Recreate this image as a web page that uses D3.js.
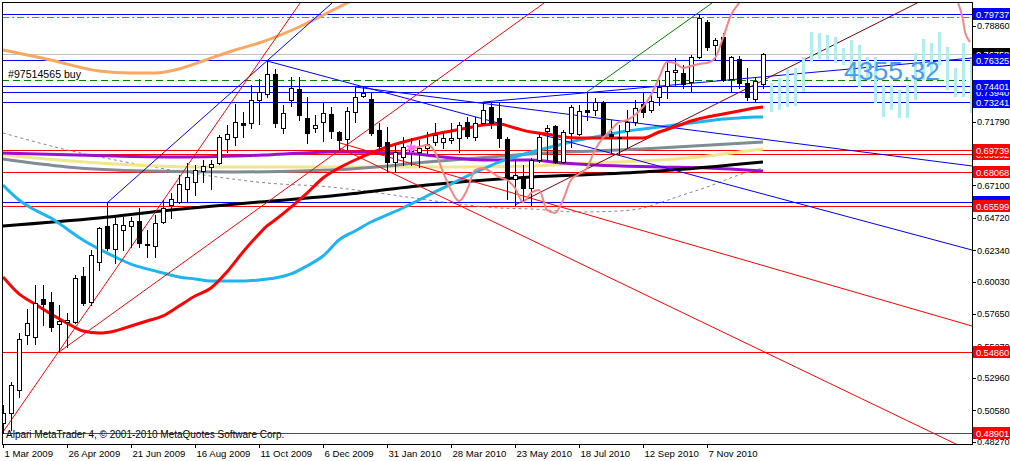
<!DOCTYPE html>
<html><head><meta charset="utf-8">
<script src="https://cdn.jsdelivr.net/npm/d3@7"></script>
<style>body{margin:0;background:#fff;overflow:hidden}svg text{font-family:"Liberation Sans",Arial,sans-serif}</style>
</head><body><svg id="c" width="1010" height="461"></svg>
<script>
// ---------- DATA ----------
const dateLabels = ["1 Mar 2009","26 Apr 2009","21 Jun 2009","16 Aug 2009","11 Oct 2009","6 Dec 2009","31 Jan 2010","28 Mar 2010","23 May 2010","18 Jul 2010","12 Sep 2010","7 Nov 2010"];
const dateIdx = [0,8,16,24,32,40,48,56,64,72,80,88];
const priceTicks = [0.78860,0.71790,0.67100,0.64720,0.62340,0.60030,0.57650,0.55270,0.52960,0.50580,0.48270];

const open = [0.4963,0.5037,0.5206,0.5610,0.5595,0.5875,0.5853,0.5691,0.5706,0.5706,
0.6044,0.5853,0.6147,0.6412,0.6243,0.6382,0.6412,0.6448,0.6279,0.6265,
0.6441,0.6566,0.6588,0.6684,0.6735,0.6816,0.6846,0.6875,0.7051,0.7066,
0.7169,0.7169,0.7338,0.7382,0.7529,0.7132,0.7338,0.7419,0.7206,0.7132,
0.7176,0.7235,0.7103,0.7051,0.7250,0.7368,0.7346,0.7118,0.7029,0.6882,
0.6919,0.6963,0.6956,0.6985,0.7029,0.7029,0.7044,0.7059,0.7176,0.7066,
0.7169,0.7287,0.7206,0.7051,0.6757,0.6765,0.6691,0.6897,0.7110,0.7147,
0.6882,0.7096,0.7088,0.7265,0.7265,0.7323,0.7088,0.7066,0.7110,0.7176,
0.7309,0.7265,0.7360,0.7441,0.7544,0.7537,0.7471,0.7654,0.7912,0.7743,
0.7801,0.7493,0.7640,0.7463,0.7346,0.7456];
const high = [0.5095,0.5265,0.5625,0.5801,0.5978,0.5978,0.5926,0.5831,0.5772,0.6051,
0.6110,0.6235,0.6404,0.6581,0.6470,0.6478,0.6478,0.6544,0.6382,0.6493,
0.6603,0.6654,0.6787,0.6875,0.6860,0.6897,0.6897,0.7081,0.7154,0.7309,
0.7250,0.7448,0.7493,0.7625,0.7566,0.7301,0.7507,0.7507,0.7360,0.7228,
0.7316,0.7287,0.7110,0.7287,0.7434,0.7434,0.7397,0.7169,0.7140,0.7015,
0.7066,0.7059,0.7044,0.7103,0.7169,0.7103,0.7169,0.7176,0.7213,0.7213,
0.7323,0.7323,0.7323,0.7066,0.6897,0.6860,0.6912,0.7096,0.7154,0.7154,
0.7118,0.7301,0.7301,0.7397,0.7353,0.7331,0.7191,0.7154,0.7265,0.7338,
0.7390,0.7397,0.7485,0.7632,0.7647,0.7596,0.7669,0.7971,0.7926,0.7794,
0.7831,0.7662,0.7662,0.7574,0.7507,0.7684];
const low = [0.4890,0.4912,0.5154,0.5544,0.5544,0.5684,0.5640,0.5485,0.5522,0.5698,
0.5831,0.5831,0.6088,0.6235,0.6140,0.6235,0.6257,0.6257,0.6184,0.6184,
0.6434,0.6470,0.6581,0.6588,0.6640,0.6735,0.6684,0.6868,0.6956,0.7007,
0.7066,0.7132,0.7162,0.7360,0.7140,0.7096,0.7294,0.7191,0.7022,0.7103,
0.7037,0.7059,0.6971,0.6971,0.7176,0.7360,0.7081,0.6971,0.6809,0.6809,
0.6860,0.6860,0.6846,0.6948,0.7007,0.6985,0.7022,0.6956,0.7059,0.7044,
0.7154,0.7132,0.6993,0.6610,0.6566,0.6603,0.6566,0.6882,0.6897,0.6875,
0.6875,0.6993,0.7081,0.7191,0.7228,0.7059,0.6956,0.6934,0.6985,0.7154,
0.7213,0.7250,0.7301,0.7353,0.7448,0.7426,0.7397,0.7647,0.7706,0.7632,
0.7478,0.7397,0.7426,0.7338,0.7331,0.7426];
const close = [0.5037,0.5242,0.5581,0.5698,0.5845,0.5838,0.5669,0.5713,0.5720,0.6029,
0.5845,0.6198,0.6397,0.6250,0.6426,0.6419,0.6448,0.6287,0.6272,0.6434,
0.6544,0.6610,0.6720,0.6772,0.6823,0.6853,0.6868,0.7066,0.7088,0.7176,
0.7154,0.7338,0.7397,0.7529,0.7169,0.7243,0.7426,0.7228,0.7096,0.7154,
0.7243,0.7110,0.7044,0.7257,0.7360,0.7390,0.7096,0.7000,0.6882,0.6956,
0.6993,0.6985,0.6985,0.7015,0.7081,0.7059,0.7059,0.7154,0.7073,0.7169,
0.7265,0.7169,0.7059,0.6772,0.6787,0.6691,0.6897,0.7066,0.7132,0.6882,
0.7103,0.7287,0.7257,0.7250,0.7323,0.7081,0.7073,0.7059,0.7176,0.7279,
0.7250,0.7331,0.7434,0.7551,0.7558,0.7456,0.7654,0.7941,0.7728,0.7779,
0.7485,0.7654,0.7463,0.7360,0.7478,0.7676];

// indicator series: [bar index, price]
const maOrange = [[0,0.7706],[6,0.7632],[12,0.7551],[16,0.7537],[19,0.7537],[22,0.7566],[25,0.7625],[29,0.7706],[32,0.7757],[37,0.7875],[42,0.8022],[44,0.8081]];
const maRed = [[0,0.6037],[2,0.5912],[4,0.5838],[6,0.5765],[8,0.5698],[10,0.5640],[12,0.5625],[14,0.5640],[16,0.5676],[18,0.5713],[20,0.5750],[22,0.5823],[24,0.5897],[26,0.5956],[28,0.6074],[30,0.6221],[32,0.6353],[33,0.6412],[34,0.6456],[36,0.6551],[38,0.6654],[40,0.6765],[42,0.6838],[44,0.6897],[46,0.6948],[48,0.6993],[50,0.7029],[52,0.7059],[54,0.7088],[56,0.7110],[58,0.7132],[60,0.7154],[62,0.7162],[64,0.7132],[66,0.7103],[68,0.7088],[70,0.7066],[72,0.7059],[74,0.7059],[76,0.7059],[78,0.7059],[80,0.7059],[82,0.7103],[84,0.7140],[86,0.7184],[88,0.7213],[90,0.7235],[92,0.7257],[94,0.7279],[95,0.7287]];
const maCyan = [[0,0.6713],[2,0.6603],[4,0.6529],[6,0.6470],[8,0.6390],[10,0.6309],[12,0.6243],[14,0.6184],[16,0.6132],[18,0.6096],[20,0.6066],[22,0.6037],[24,0.6022],[26,0.6007],[28,0.6007],[30,0.6007],[32,0.6015],[34,0.6029],[36,0.6059],[38,0.6118],[40,0.6191],[42,0.6309],[44,0.6375],[46,0.6441],[48,0.6493],[50,0.6544],[52,0.6603],[54,0.6662],[56,0.6720],[58,0.6779],[60,0.6831],[62,0.6882],[64,0.6919],[66,0.6956],[68,0.6985],[70,0.7015],[72,0.7044],[74,0.7066],[76,0.7088],[78,0.7110],[80,0.7125],[82,0.7140],[84,0.7154],[86,0.7169],[88,0.7184],[90,0.7198],[92,0.7206],[94,0.7213],[95,0.7213]];
const maPurple = [[0,0.6948],[14,0.6926],[23,0.6919],[33,0.6934],[41,0.6956],[50,0.6948],[55,0.6919],[60,0.6897],[66,0.6897],[70,0.6875],[74,0.6860],[82,0.6846],[88,0.6838],[95,0.6816]];
const maKhaki = [[0,0.6934],[12,0.6875],[25,0.6846],[41,0.6846],[57,0.6846],[66,0.6853],[74,0.6875],[82,0.6897],[87,0.6919],[91,0.6948],[95,0.6978]];
const maGrey = [[0,0.6904],[8,0.6846],[18,0.6816],[29,0.6809],[41,0.6823],[45,0.6838],[53,0.6882],[61,0.6919],[70,0.6956],[74,0.6963],[82,0.6985],[95,0.7029]];
const maBlack = [[0,0.6412],[12,0.6470],[21,0.6529],[25,0.6551],[32,0.6588],[41,0.6632],[53,0.6713],[66,0.6772],[75,0.6794],[82,0.6816],[95,0.6882]];
const maDotted = [[0,0.7096],[8,0.6971],[16,0.6875],[25,0.6787],[33,0.6728],[41,0.6698],[47,0.6654],[55,0.6588],[62,0.6544],[66,0.6537],[72,0.6515],[77,0.6522],[80,0.6544],[82,0.6581],[85,0.6640],[88,0.6698],[92,0.6787],[95,0.6838]];
const pinkLine = [[51,0.6985],[52,0.6993],[53,0.7007],[54,0.6956],[55,0.6809],[56,0.6676],[57,0.6595],[58,0.6676],[59,0.6823],[60,0.6838],[61,0.6809],[62,0.6772],[63,0.6750],[64,0.6691],[65,0.6588],[66,0.6654],[67,0.6676],[68,0.6529],[69,0.6507],[70,0.6603],[71,0.6750],[72,0.6794],[73,0.6838],[74,0.6971],[75,0.7059],[76,0.7118],[77,0.7176],[78,0.7191],[79,0.7228],[80,0.7287],[81,0.7375],[82,0.7500],[83,0.7618],[84,0.7610],[85,0.7574],[86,0.7588],[87,0.7603],[88,0.7610],[89,0.7647],[90,0.7794],[91,0.7963],[92,0.8051],[93,0.8110]];
const pinkTail = [[119.4,0.8051],[120,0.7926],[120.25,0.7838],[120.9,0.7765]];
const starPoint = [51,0.6985];

// projection bars (future) at bar indices 96..121
const projHigh = [0.7463,0.7500,0.7566,0.7574,0.7654,0.7838,0.7831,0.7816,0.7801,0.7721,0.7779,0.7743,0.7654,0.7654,0.7448,0.7448,0.7412,0.7448,0.7684,0.7787,0.7757,0.7838,0.7728,0.7574,0.7757,0.7632];
const projLow = [0.7250,0.7265,0.7287,0.7294,0.7397,0.7618,0.7640,0.7632,0.7610,0.7596,0.7500,0.7434,0.7485,0.7316,0.7213,0.7265,0.7206,0.7206,0.7338,0.7485,0.7522,0.7596,0.7412,0.7360,0.7360,0.7243];
const bigValue = "4355.32";

// horizontal levels
const bidPrice = 0.76758;
const blueLevels = [0.79737,0.76325,0.74401,0.73940,0.73241,0.65848];
const redLevels = [0.69739,0.69392,0.68068,0.65599,0.54860,0.48901];
const orderLevel = 0.74852, orderText = "#97514565 buy";
const dashDotLevel = 0.79510;

// trend lines [i1,p1,i2,p2]
const blueTrends = [[33,0.7625,121.125,0.6235],[44,0.7434,121.125,0.6853],[13,0.6581,41.125,0.8051],[60,0.7323,121.125,0.7647]];
const redTrends = [[0,0.4897,37.125,0.8051],[7,0.5485,67.625,0.8051],[42.125,0.6985,119.375,0.4801],[42.125,0.7022,121.125,0.5676]];
const maroonTrends = [[64,0.6566,114.25,0.8051]];
const greenTrends = [[73,0.7397,88.625,0.8051]];
const copyright = "Alpari MetaTrader 4, \u00a9 2001-2010 MetaQuotes Software Corp.";

// ---------- DRAW ----------
const svg = d3.select("#c");
const P = {l:2, t:2, r:972, b:444};
const x = d3.scaleLinear().domain([0,95]).range([3,763]);
const y = d3.scaleLinear().domain([0.4827,0.7886]).range([441.5,25.5]);
const ry = p => Math.round(y(p)) + 0.5;

svg.append("defs").append("clipPath").attr("id","clip")
  .append("rect").attr("x",P.l).attr("y",P.t).attr("width",P.r-P.l).attr("height",P.b-P.t);
const g = svg.append("g").attr("clip-path","url(#clip)");

function hline(p, color, dash, w){
  g.append("line").attr("x1",P.l).attr("x2",P.r).attr("y1",ry(p)).attr("y2",ry(p))
   .attr("stroke",color).attr("stroke-width",w||1).attr("stroke-dasharray",dash||null)
   .attr("shape-rendering","crispEdges");
}
hline(bidPrice,"#c0c0c0");
hline(dashDotLevel,"#ff4a10","7,3,2,3");
hline(orderLevel,"#008000","7,4");
blueLevels.forEach(p=>hline(p,"#0000ff"));
redLevels.forEach(p=>hline(p,"#ff0000"));

const lineGen = d3.line().x(d=>x(d[0])).y(d=>y(d[1])).curve(d3.curveMonotoneX);
function series(data,color,w,dash){
  g.append("path").datum(data).attr("d",lineGen).attr("fill","none")
   .attr("stroke",color).attr("stroke-width",w).attr("stroke-dasharray",dash||null)
   .attr("stroke-linejoin","round");
}
series(maDotted,"#808890",1,"3,3");
series(maKhaki,"#f0e68c",3);
series(maGrey,"#7f8c96",3);
series(maPurple,"#9a10d0",3);
series(maBlack,"#000000",3);
series(maCyan,"#1eb4ee",3);
series(maOrange,"#f8a860",3);

function trends(list,color){
  list.forEach(t=>g.append("line").attr("x1",x(t[0])).attr("y1",y(t[1])).attr("x2",x(t[2])).attr("y2",y(t[3]))
    .attr("stroke",color).attr("stroke-width",1));
}
trends(blueTrends,"#0000ff");
trends(redTrends,"#ff0000");
trends(maroonTrends,"#800000");
trends(greenTrends,"#008000");

series(maRed,"#ff0000",3);

// candles
const cg = g.append("g").attr("shape-rendering","crispEdges");
d3.range(open.length).forEach(i=>{
  const cx = Math.round(x(i));
  cg.append("line").attr("x1",cx+0.5).attr("x2",cx+0.5).attr("y1",Math.round(y(high[i]))).attr("y2",Math.round(y(low[i]))+1).attr("stroke","#000");
  const top = Math.round(y(Math.max(open[i],close[i]))), bot = Math.round(y(Math.min(open[i],close[i])));
  const bull = close[i] >= open[i];
  cg.append("rect").attr("x",cx-2+0.5).attr("y",top+0.5).attr("width",4).attr("height",Math.max(bot-top,0))
    .attr("fill",bull?"#fff":"#000").attr("stroke","#000");
});

series(pinkLine,"#f88484",2);
series(pinkTail,"#f88484",2);
g.append("path").attr("d",d3.symbol(d3.symbolAsterisk,60)()).attr("transform",`translate(${x(starPoint[0])},${y(starPoint[1])})`)
  .attr("stroke","#ff66ff").attr("stroke-width",2).attr("fill","none");

// projection bars
const pg = g.append("g").attr("shape-rendering","crispEdges");
projHigh.forEach((h,k)=>{
  const cx = Math.round(x(96+k));
  pg.append("rect").attr("x",cx-1).attr("y",Math.round(y(h))).attr("width",3).attr("height",Math.round(y(projLow[k]))-Math.round(y(h)))
    .attr("fill","#afeeee");
});
g.append("text").attr("x",844).attr("y",ry(0.7493)).attr("font-size",26.5).attr("fill","#4a9af2").text(bigValue);

g.append("text").attr("x",8).attr("y",ry(orderLevel)-3).attr("font-size",10.6).attr("fill","#000").text(orderText);
g.append("text").attr("x",6).attr("y",438).attr("font-size",10).attr("fill","#000").text(copyright);

// frame & axes
svg.append("rect").attr("x",P.l+0.5).attr("y",P.t+0.5).attr("width",P.r-P.l).attr("height",P.b-P.t)
  .attr("fill","none").attr("stroke","#000").attr("shape-rendering","crispEdges");
const ax = svg.append("g").attr("shape-rendering","crispEdges");
priceTicks.forEach(p=>{
  ax.append("line").attr("x1",P.r).attr("x2",P.r+4).attr("y1",ry(p)).attr("y2",ry(p)).attr("stroke","#000");
  ax.append("text").attr("x",P.r+5).attr("y",y(p)+3.5).attr("font-size",9.2).attr("letter-spacing",-0.1).attr("fill","#000").text(p.toFixed(5));
});
dateIdx.forEach((d,k)=>{
  const xx = Math.round(x(d))+0.5;
  ax.append("line").attr("x1",xx).attr("x2",xx).attr("y1",P.b).attr("y2",P.b+4).attr("stroke","#000");
  ax.append("text").attr("x",xx+1).attr("y",457).attr("font-size",9.6).attr("fill","#000").text(dateLabels[k]);
});

// price boxes (partly hidden ones first)
function box(p,color){
  const yy = Math.round(y(p));
  ax.append("rect").attr("x",P.r+1).attr("y",yy-6).attr("width",1010-P.r-1).attr("height",12).attr("fill",color);
  ax.append("text").attr("x",P.r+4).attr("y",yy+4).attr("font-size",9.4).attr("letter-spacing",-0.1).attr("fill","#fff").text(p.toFixed(5));
}
box(bidPrice,"#000");
const hiddenFirst = [blueLevels[3], redLevels[1], blueLevels[5]];
hiddenFirst.forEach(p=>box(p, blueLevels.includes(p)?"#0000ff":"#ff0000"));
blueLevels.forEach(p=>{ if(!hiddenFirst.includes(p)) box(p,"#0000ff"); });
redLevels.forEach(p=>{ if(!hiddenFirst.includes(p)) box(p,"#ff0000"); });
</script></body></html>
